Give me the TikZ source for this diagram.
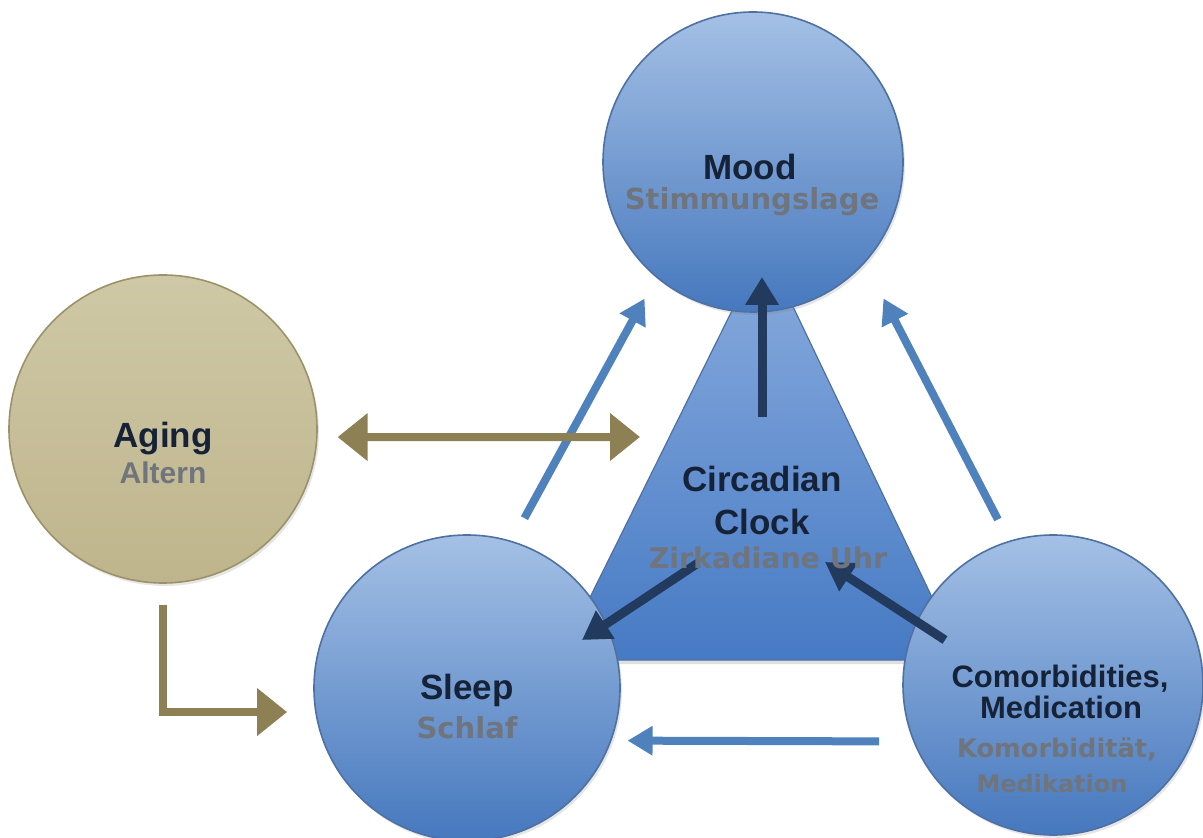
\documentclass[tikz,border=0pt]{standalone}
\usepackage{fontspec}
\setmainfont{Liberation Sans}
\newfontfamily\defont{DejaVu Sans}
\usetikzlibrary{arrows.meta}
\usetikzlibrary{shadows}
\definecolor{bluetop}{RGB}{164,192,229}
\definecolor{bluebot}{RGB}{70,120,190}
\definecolor{blueedge}{RGB}{78,112,162}
\definecolor{tritop}{RGB}{138,172,222}
\definecolor{tribot}{RGB}{70,122,196}
\definecolor{agetop}{RGB}{207,200,166}
\definecolor{agebot}{RGB}{190,181,140}
\definecolor{ageedge}{RGB}{156,146,106}
\definecolor{olive}{RGB}{140,128,84}
\definecolor{lightarr}{RGB}{79,129,189}
\definecolor{darkarr}{RGB}{33,58,94}
\definecolor{entx}{RGB}{22,34,56}
\definecolor{detx}{RGB}{112,116,124}

\begin{document}
\begin{tikzpicture}[x=0.5pt, y=-0.5pt,
    bluecirc/.style={circle, inner sep=0pt, draw=blueedge, line width=0.8pt,
        top color=bluetop, bottom color=bluebot,
        drop shadow={shadow xshift=1pt, shadow yshift=-1.5pt, opacity=0.2}},
    agecirc/.style={circle, inner sep=0pt, draw=ageedge, line width=0.8pt,
        top color=agetop, bottom color=agebot,
        drop shadow={shadow xshift=1pt, shadow yshift=-1.5pt, opacity=0.2}},
    entext/.style={text=entx, inner sep=0pt, anchor=base,
        font=\bfseries\fontsize{17.5}{20}\selectfont},
    ensmall/.style={entext, font=\bfseries\fontsize{15.5}{18}\selectfont},
    detext/.style={text=detx, inner sep=0pt, anchor=base,
        font=\defont\bfseries\fontsize{14.5}{17}\selectfont},
    desmall/.style={detext, font=\defont\bfseries\fontsize{12}{14}\selectfont},
    lbarrow/.style={draw=lightarr, line width=4pt, -{Triangle[length=12.5pt,width=14pt]}},
    dkarrow/.style={draw=darkarr, line width=4.5pt, -{Triangle[length=14pt,width=16pt]}},
    olarrow/.style={draw=olive, line width=4pt, -{Triangle[length=15pt,width=23pt]}}]
    \useasboundingbox (0,0) rectangle (1203,838);
    \clip (0,0) rectangle (1203,838);

    % Circadian clock triangle
    \coordinate (apex) at (764,246);
    \coordinate (baseL) at (559,660);
    \coordinate (baseR) at (962,660);
    \path[draw=blueedge, line width=0.6pt, top color=tritop, bottom color=tribot,
        drop shadow={shadow xshift=1pt, shadow yshift=-2pt, opacity=0.25}]
        (apex) -- (baseL) -- (baseR) -- cycle;

    % Circles
    \node[bluecirc, minimum size=150pt] (mood) at (753,162) {};
    \node[bluecirc, minimum size=153pt] (sleep) at (467,688) {};
    \node[bluecirc, minimum size=150pt] (comorb) at (1053,685) {};
    \node[agecirc, minimum size=154pt] (aging) at (163,429) {};

    % Free ends inside the shapes
    \coordinate (ck-top) at (762,417);
    \coordinate (md-in) at (762,277);
    \coordinate (ck-left) at (698,563);
    \coordinate (sl-in) at (582,640);
    \coordinate (cm-in) at (945,640);
    \coordinate (ck-right) at (825,562);
    \coordinate (ck-west) at (640,437);

    % Light blue arrows
    \draw[lbarrow, shorten <=13pt, shorten >=12pt] (sleep.73) -- (mood.230);
    \draw[lbarrow, shorten <=12pt, shorten >=20pt] (comorb.107) -- (mood.318);
    \draw[lbarrow, shorten <=17pt, shorten >=8pt] (comorb.202) -- (sleep.340);

    % Dark arrows
    \draw[dkarrow] (ck-top) -- (md-in);
    \draw[dkarrow] (ck-left) -- (sl-in);
    \draw[dkarrow] (cm-in) -- (ck-right);

    % Aging arrows
    \draw[olarrow, {Triangle[length=15pt,width=23pt]}-{Triangle[length=15pt,width=23pt]},
        shorten <=10pt] (aging.-3) -- (ck-west);
    \draw[olarrow, shorten <=10.5pt, shorten >=14pt] (aging.south) |- (sleep.189);

    % Labels
    \node[entext] (mood-en) at (750,180) {Mood};
    \node[detext] (mood-de) at (752,210) {Stimmungslage};
    \node[entext] (aging-en) at (163,448) {Aging};
    \node[entext, text=detx, font=\bfseries\fontsize{15}{18}\selectfont] (aging-de) at (163,484) {Altern};
    \node[entext] (sleep-en) at (467,699) {Sleep};
    \node[detext] (sleep-de) at (467,738) {Schlaf};
    \node[entext] (clock-en1) at (762,492) {Circadian};
    \node[entext] (clock-en2) at (762,535) {Clock};
    \node[detext, font=\defont\bfseries\fontsize{14.2}{17}\selectfont] (clock-de) at (768,568) {Zirkadiane Uhr};
    \node[ensmall] (comorb-en1) at (1060,687) {Comorbidities,};
    \node[ensmall] (comorb-en2) at (1061,718) {Medication};
    \node[desmall, font=\defont\bfseries\fontsize{12.8}{15}\selectfont] (comorb-de1) at (1057,757) {Komorbidität,};
    \node[desmall] (comorb-de2) at (1052,792) {Medikation};
\end{tikzpicture}
\end{document}
